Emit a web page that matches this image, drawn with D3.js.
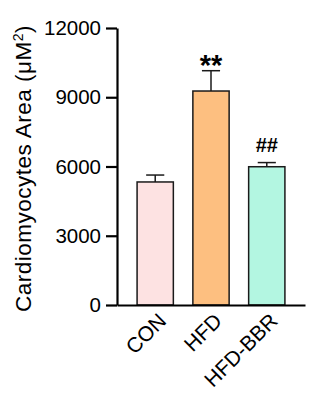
<!DOCTYPE html>
<html>
<head>
<meta charset="utf-8">
<script src="https://cdn.jsdelivr.net/npm/d3@7"></script>
<style>
  body { margin: 0; background: #fff; }
  text { font-family: Arial, "Liberation Sans", sans-serif; fill: #000; }
</style>
</head>
<body>
<div id="content"></div>
<script>
const groups = ["CON", "HFD", "HFD-BBR"];
const means  = [5330, 9270, 5990];
const sems   = [300, 880, 180];
const colors = ["#fde2e2", "#fdbf80", "#b3f6e1"];
const marks  = ["", "**", "##"];
const yTicks = [0, 3000, 6000, 9000, 12000];

const W = 317, H = 395;
const margin = { left: 117, right: 12, top: 28, bottom: 90 };
const iW = W - margin.left - margin.right;
const iH = H - margin.top - margin.bottom;

const xScale = d3.scaleBand()
    .domain(groups)
    .range([0, 188])
    .paddingInner(0.35)
    .paddingOuter(0.36);

const yScale = d3.scaleLinear()
    .domain([0, 12000])
    .range([iH, 0]);

const svg = d3.select("#content").append("svg")
    .attr("width", W)
    .attr("height", H);

const g = svg.append("g")
    .attr("transform", "translate(" + margin.left + "," + margin.top + ")");

// bars
g.selectAll(".bar").data(groups).enter()
  .append("rect")
    .attr("x", d => xScale(d))
    .attr("y", (d, i) => yScale(means[i]))
    .attr("width", xScale.bandwidth())
    .attr("height", (d, i) => iH - yScale(means[i]))
    .attr("fill", (d, i) => colors[i])
    .attr("stroke", "#1a1a1a")
    .attr("stroke-width", 1.5);

// error bars (upper only)
const err = g.selectAll(".err").data(groups).enter().append("g")
    .attr("stroke", "#1a1a1a").attr("stroke-width", 1.5);
err.append("line")
    .attr("x1", d => xScale(d) + xScale.bandwidth() / 2)
    .attr("x2", d => xScale(d) + xScale.bandwidth() / 2)
    .attr("y1", (d, i) => yScale(means[i]))
    .attr("y2", (d, i) => yScale(means[i] + sems[i]));
err.append("line")
    .attr("x1", d => xScale(d) + xScale.bandwidth() / 4)
    .attr("x2", d => xScale(d) + xScale.bandwidth() * 3 / 4)
    .attr("y1", (d, i) => yScale(means[i] + sems[i]))
    .attr("y2", (d, i) => yScale(means[i] + sems[i]));

// significance marks: ** (vs CON), ## (vs HFD)
g.selectAll(".mark").data(groups).enter()
  .append("text")
    .attr("x", d => xScale(d) + xScale.bandwidth() / 2)
    .attr("y", (d, i) => yScale(means[i] + sems[i]) + (marks[i] == "**" ? 4 : -11))
    .attr("text-anchor", "middle")
    .style("font-size", (d, i) => marks[i] == "**" ? "29px" : "20px")
    .style("font-weight", "bold")
    .text((d, i) => marks[i]);

// y axis
const yAxis = g.append("g")
    .call(d3.axisLeft(yScale).tickValues(yTicks).tickFormat(d3.format("d"))
        .tickSize(11).tickPadding(5).tickSizeOuter(0));
yAxis.select(".domain").attr("stroke-width", 2.2);
yAxis.selectAll(".tick line").attr("stroke-width", 2.2);
yAxis.selectAll(".tick text").style("font-size", "20.5px");

// x axis
const xAxis = g.append("g")
    .attr("transform", "translate(0," + iH + ")")
    .call(d3.axisBottom(xScale).tickSize(0).tickSizeOuter(0));
xAxis.select(".domain").attr("stroke-width", 2.2);
xAxis.selectAll(".tick text")
    .style("font-size", "21px")
    .attr("text-anchor", "end")
    .attr("dy", "0.35em")
    .attr("transform", "translate(7,12) rotate(-45)")
    .attr("y", 0).attr("x", 0);

// y title
svg.append("text")
    .attr("transform", "translate(31," + (margin.top + iH / 2 + 2) + ") rotate(-90)")
    .attr("text-anchor", "middle")
    .style("font-size", "22.5px")
    .style("letter-spacing", "0.5px")
    .html("Cardiomyocytes Area (μM<tspan dy='-8' font-size='14px'>2</tspan><tspan dy='8'>)</tspan>");
</script>
</body>
</html>
